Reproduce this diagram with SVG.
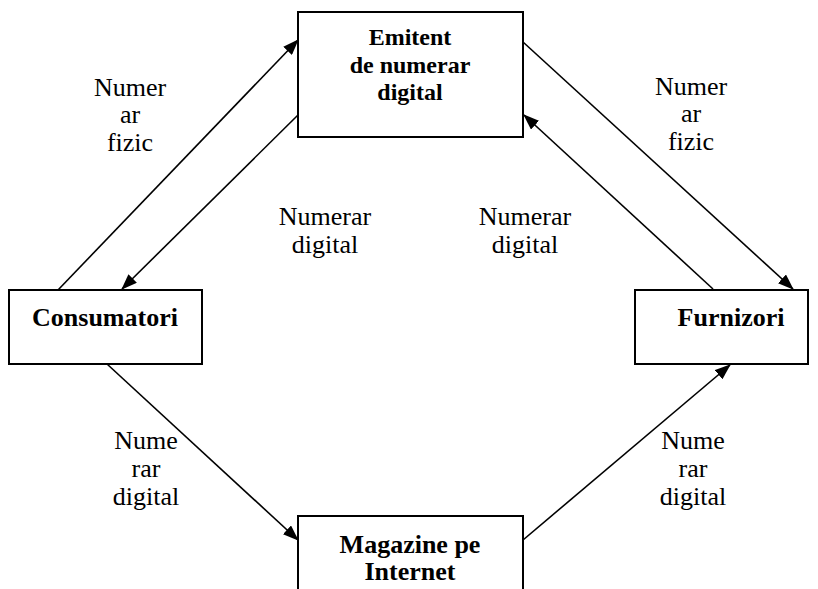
<svg xmlns="http://www.w3.org/2000/svg" width="818" height="589" viewBox="0 0 818 589">
  <style>
    .box { fill: #ffffff; stroke: #000000; stroke-width: 2; }
    .edge { fill: none; stroke: #000000; stroke-width: 1.6; }
  </style>
  <defs>
    <marker id="arrow" markerWidth="16" markerHeight="12" refX="15" refY="6" orient="auto" markerUnits="userSpaceOnUse">
      <path d="M0,0 L16,6 L0,12 Z" fill="#000"/>
    </marker>
  </defs>
  <rect width="818" height="589" fill="#ffffff"/>

  <g id="connectors">
    <line class="edge" marker-end="url(#arrow)" x1="58" y1="290" x2="298" y2="40"/>
    <line class="edge" marker-end="url(#arrow)" x1="298" y1="115" x2="122" y2="289"/>
    <line class="edge" marker-end="url(#arrow)" x1="523" y1="42" x2="793" y2="289"/>
    <line class="edge" marker-end="url(#arrow)" x1="713" y1="289" x2="524" y2="115"/>
    <line class="edge" marker-end="url(#arrow)" x1="107" y1="364" x2="298" y2="540"/>
    <line class="edge" marker-end="url(#arrow)" x1="523" y1="540" x2="730" y2="365"/>
  </g>

  <!-- edge labels -->
  <g id="labels">
    <text font-family="Times New Roman, serif" font-size="26" text-anchor="middle" x="130" y="96">Numer</text>
    <text font-family="Times New Roman, serif" font-size="26" text-anchor="middle" x="130" y="123">ar</text>
    <text font-family="Times New Roman, serif" font-size="26" text-anchor="middle" x="130" y="151">fizic</text>
    <text font-family="Times New Roman, serif" font-size="26" text-anchor="middle" x="691" y="95">Numer</text>
    <text font-family="Times New Roman, serif" font-size="26" text-anchor="middle" x="691" y="122">ar</text>
    <text font-family="Times New Roman, serif" font-size="26" text-anchor="middle" x="691" y="150">fizic</text>
    <text font-family="Times New Roman, serif" font-size="26" text-anchor="middle" x="325" y="225">Numerar</text>
    <text font-family="Times New Roman, serif" font-size="26" text-anchor="middle" x="325" y="253">digital</text>
    <text font-family="Times New Roman, serif" font-size="26" text-anchor="middle" x="525" y="225">Numerar</text>
    <text font-family="Times New Roman, serif" font-size="26" text-anchor="middle" x="525" y="253">digital</text>
    <text font-family="Times New Roman, serif" font-size="26" text-anchor="middle" x="146" y="449">Nume</text>
    <text font-family="Times New Roman, serif" font-size="26" text-anchor="middle" x="146" y="477">rar</text>
    <text font-family="Times New Roman, serif" font-size="26" text-anchor="middle" x="146" y="505">digital</text>
    <text font-family="Times New Roman, serif" font-size="26" text-anchor="middle" x="693" y="449">Nume</text>
    <text font-family="Times New Roman, serif" font-size="26" text-anchor="middle" x="693" y="477">rar</text>
    <text font-family="Times New Roman, serif" font-size="26" text-anchor="middle" x="693" y="505">digital</text>
  </g>

  <g id="emitent">
    <rect class="box" x="298" y="12" width="225" height="125"/>
    <text font-family="Times New Roman, serif" font-weight="bold" font-size="24" text-anchor="middle" x="410" y="45">Emitent</text>
    <text font-family="Times New Roman, serif" font-weight="bold" font-size="24" text-anchor="middle" x="410" y="73">de numerar</text>
    <text font-family="Times New Roman, serif" font-weight="bold" font-size="24" text-anchor="middle" x="410" y="100">digital</text>
  </g>

  <g id="consumatori">
    <rect class="box" x="9" y="290" width="193" height="74"/>
    <text font-family="Times New Roman, serif" font-weight="bold" font-size="26" text-anchor="middle" x="105" y="326">Consumatori</text>
  </g>

  <g id="furnizori">
    <rect class="box" x="635" y="290" width="173" height="74"/>
    <text font-family="Times New Roman, serif" font-weight="bold" font-size="26" text-anchor="middle" x="731" y="326">Furnizori</text>
  </g>

  <g id="magazine">
    <rect class="box" x="298" y="516" width="225" height="90"/>
    <text font-family="Times New Roman, serif" font-weight="bold" font-size="26" text-anchor="middle" x="410" y="553">Magazine pe</text>
    <text font-family="Times New Roman, serif" font-weight="bold" font-size="26" text-anchor="middle" x="410" y="580">Internet</text>
  </g>
</svg>
